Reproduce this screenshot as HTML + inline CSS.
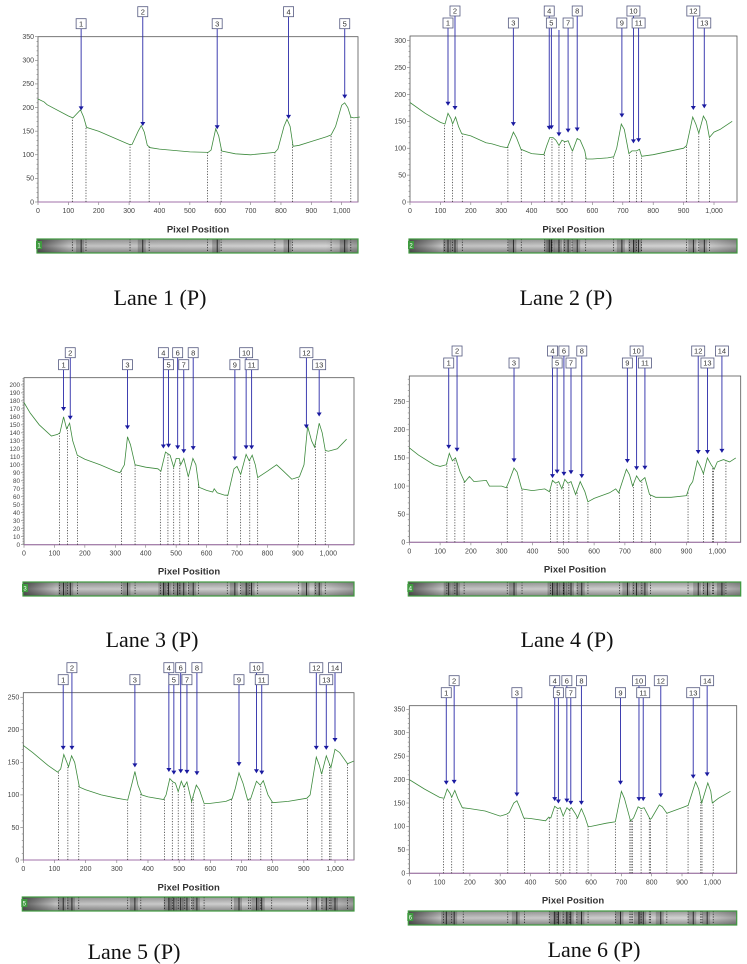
<!DOCTYPE html>
<html><head><meta charset="utf-8">
<style>
html,body{margin:0;padding:0;background:#fff;}
svg{display:block;font-family:"Liberation Sans",sans-serif;}
</style></head>
<body>
<svg id="fig" width="747" height="964" viewBox="0 0 747 964"></svg>
<script>
// ---------- data ----------
const lane1TraceX=[0,20,30,100,115,140,150,160,200,300,310,330,340,350,360,370,400,500,560,570,585,595,605,650,700,780,790,810,820,830,840,860,900,950,965,980,1000,1010,1020,1030,1040,1060];
const lane1TraceY=[218,212,206,182,178,195,180,158,150,122,122,150,162,148,120,115,112,106,105,110,155,140,108,102,100,105,112,160,175,160,118,120,128,138,142,160,205,210,200,180,178,180];
const lane1PeakX=[142,345,590,825,1010];
const lane1PeakY=[195,162,155,177,220];
const lane1Bounds=[113,158,303,366,558,603,780,838,965,1030];

const lane2TraceX=[0,50,100,115,125,135,140,150,160,170,200,250,270,300,320,330,340,350,365,400,440,450,460,470,480,490,500,510,520,530,535,550,560,575,580,600,650,670,680,695,705,720,730,745,755,762,800,900,910,930,940,950,965,975,985,1000,1020,1060];
const lane2TraceY=[185,165,148,145,165,155,145,158,140,127,123,110,108,103,101,115,130,120,98,90,88,105,120,120,115,105,115,112,114,100,95,118,115,95,80,80,82,84,100,145,135,90,95,95,98,85,88,100,105,158,145,128,160,150,120,130,135,150];
const lane2PeakX=[125,148,340,458,465,490,520,550,697,735,752,932,968];
const lane2PeakY=[180,172,142,135,136,123,130,132,158,110,112,172,175];
const lane2Bounds=[113,140,172,322,366,443,467,490,508,533,578,670,722,745,762,910,950,985];

const lane3TraceX=[0,20,50,90,110,118,130,140,150,160,175,200,250,300,315,330,340,350,365,400,440,450,465,480,492,500,510,515,525,540,555,565,575,600,620,625,635,660,670,690,700,712,730,740,750,760,768,800,830,850,880,905,920,932,945,955,970,980,990,1000,1030,1060];
const lane3TraceY=[178,165,150,136,138,140,160,145,152,130,112,107,100,92,90,100,135,125,100,97,95,92,116,112,97,108,108,100,108,85,108,100,72,68,66,70,65,62,62,95,98,88,113,105,112,100,84,92,100,93,82,85,100,148,130,122,152,140,118,117,120,132];
const lane3PeakX=[130,152,340,458,475,505,525,556,693,730,748,928,970];
const lane3PeakY=[168,157,145,121,122,120,115,119,106,120,120,146,161];
const lane3Bounds=[117,143,176,320,365,448,473,492,512,540,573,668,712,742,768,902,958,990];

const lane4TraceX=[0,30,80,100,120,130,140,150,165,180,195,210,250,260,300,315,325,340,350,365,400,440,455,465,475,485,495,505,515,525,540,555,570,580,600,650,670,680,705,715,725,738,750,765,780,800,850,900,910,920,935,945,955,968,980,990,1000,1020,1040,1060];
const lane4TraceY=[168,155,138,135,138,158,145,150,125,107,117,108,110,100,100,97,110,132,125,95,92,95,90,110,105,108,95,112,105,108,85,108,90,72,78,88,95,88,130,120,100,118,108,115,85,80,80,83,100,108,145,135,122,150,138,130,143,147,143,150];
const lane4PeakX=[128,155,340,465,480,502,525,560,708,738,765,938,968,1015];
const lane4PeakY=[167,162,143,115,123,119,122,115,142,129,130,158,158,160];
const lane4Bounds=[122,148,178,318,366,458,480,500,518,545,580,683,728,755,783,905,955,985,988,1028];

const lane5TraceX=[0,30,80,110,120,130,140,145,155,165,180,200,250,300,335,350,358,368,380,400,450,458,470,480,488,497,507,515,525,540,555,565,580,600,650,670,680,692,705,720,730,748,760,770,785,800,850,910,920,940,950,957,972,980,987,1000,1015,1040,1060];
const lane5TraceY=[176,165,145,135,140,162,150,143,160,150,112,108,100,95,92,120,136,115,100,97,93,100,125,120,118,105,121,112,120,90,115,108,87,87,90,94,110,134,118,92,95,121,115,122,100,88,90,95,100,158,145,132,160,150,142,170,165,148,152];
const lane5PeakX=[128,156,358,467,483,505,525,557,692,748,765,940,972,1000];
const lane5PeakY=[170,170,143,136,132,134,133,131,145,134,132,170,170,182];
const lane5Bounds=[113,143,178,335,377,453,478,497,518,540,545,580,668,722,728,762,797,912,958,982,987,1040];

const lane6TraceX=[0,50,100,115,125,135,140,150,160,175,200,250,300,320,330,345,355,365,378,400,450,460,467,480,490,498,508,520,528,535,550,555,568,580,590,600,650,680,700,710,730,740,755,765,775,795,800,825,835,850,900,920,945,955,965,985,995,1000,1020,1060];
const lane6TraceY=[200,180,162,160,180,170,162,177,160,140,138,133,122,126,130,150,155,140,118,117,112,120,118,143,138,140,122,140,135,140,125,118,138,120,100,100,107,110,175,160,112,118,142,138,140,115,118,146,142,128,140,145,195,180,150,193,175,150,160,175];
const lane6PeakX=[122,148,355,480,492,520,533,568,697,758,772,830,937,983];
const lane6PeakY=[190,192,165,155,150,152,147,147,190,155,155,163,203,208];
const lane6Bounds=[113,140,178,325,380,462,488,508,530,553,590,680,728,732,736,765,792,796,850,920,962,966,1003];

const xTickLabels=["0","100","200","300","400","500","600","700","800","900","1,000"];
const laneTitles=["Lane 1 (P)","Lane 2 (P)","Lane 3 (P)","Lane 4 (P)","Lane 5 (P)","Lane 6 (P)"];

// ---------- layout (geometry only) ----------
const panels=[
 {tx:lane1TraceX,ty:lane1TraceY,px:lane1PeakX,py:lane1PeakY,bd:lane1Bounds,left:38,right:358,k:0.3037,y0:202,top:36.7,ymax:350,step:50,stripY:239,xlabY:229,title:[160,305],noBox:[]},
 {tx:lane2TraceX,ty:lane2TraceY,px:lane2PeakX,py:lane2PeakY,bd:lane2Bounds,left:410,right:737,k:0.304,y0:202,top:36,ymax:308.7,step:50,stripY:239,xlabY:229,title:[566,305],noBox:[6]},
 {tx:lane3TraceX,ty:lane3TraceY,px:lane3PeakX,py:lane3PeakY,bd:lane3Bounds,left:24,right:354,k:0.3043,y0:544.7,top:377.7,ymax:209,step:10,stripY:582,xlabY:571,title:[152,647],noBox:[]},
 {tx:lane4TraceX,ty:lane4TraceY,px:lane4PeakX,py:lane4PeakY,bd:lane4Bounds,left:409.3,right:740.7,k:0.308,y0:542.3,top:376,ymax:295.7,step:50,stripY:582,xlabY:569,title:[567,647],noBox:[]},
 {tx:lane5TraceX,ty:lane5TraceY,px:lane5PeakX,py:lane5PeakY,bd:lane5Bounds,left:23.3,right:354,k:0.3117,y0:860,top:692.7,ymax:257,step:50,stripY:897,xlabY:887,title:[134,959],noBox:[]},
 {tx:lane6TraceX,ty:lane6TraceY,px:lane6PeakX,py:lane6PeakY,bd:lane6Bounds,left:409.3,right:736.7,k:0.303,y0:873.3,top:705.7,ymax:357.7,step:50,stripY:911,xlabY:900,title:[594,957],noBox:[]}
];

const NS="http://www.w3.org/2000/svg";
const fig=document.getElementById('fig');
function mk(tag,attrs,parent){const e=document.createElementNS(NS,tag);for(const a in attrs)e.setAttribute(a,attrs[a]);(parent||fig).appendChild(e);return e;}
function interp(xs,ys,x){for(let i=1;i<xs.length;i++){if(x<=xs[i]){const t=(x-xs[i-1])/(xs[i]-xs[i-1]);return ys[i-1]+t*(ys[i]-ys[i-1]);}}return ys[ys.length-1];}

panels.forEach((p,pi)=>{
 const g=mk('g',{});
 
 
 const X=v=>p.left+v*p.k;
 const Y=v=>p.y0-(v/p.ymax)*(p.y0-p.top);
 const fr=mk('rect',{x:p.left,y:p.top,width:p.right-p.left,height:p.y0-p.top,fill:'#fff',stroke:'#555','stroke-width':0.8},g);
 
 
 const minor=p.step/5;
 for(let v=0;v<=p.ymax+0.01;v+=minor){
   const major=Math.abs(v/p.step-Math.round(v/p.step))<1e-6;
   mk('line',{x1:p.left-(major?3:1.5),x2:p.left,y1:Y(v),y2:Y(v),stroke:'#777','stroke-width':0.6},g);
   if(major){const t=mk('text',{x:p.left-4,y:Y(v)+2.3,'font-size':p.step===10?6.3:7,fill:'#444','text-anchor':'end'},g);t.textContent=String(Math.round(v));
     }
 }
 xTickLabels.forEach((lab,i)=>{
   const v=i*100;
   mk('line',{x1:X(v),x2:X(v),y1:p.y0,y2:p.y0+3,stroke:'#777','stroke-width':0.6},g);
   const t=mk('text',{x:X(v),y:p.y0+11,'font-size':7,fill:'#444','text-anchor':'middle'},g);t.textContent=lab;
   
 });
 mk('line',{x1:p.left,x2:p.right,y1:p.y0,y2:p.y0,stroke:'#a070a8','stroke-width':1},g);
 p.bd.forEach(b=>{
   const l=mk('line',{x1:X(b),x2:X(b),y1:p.y0,y2:Y(interp(p.tx,p.ty,b)),stroke:'#222','stroke-width':0.7,'stroke-dasharray':'1.2,1.5'},g);
   
 });
 const pts=p.tx.map((x,i)=>X(x).toFixed(1)+','+Y(p.ty[i]).toFixed(1)).join(' ');
 const tr=mk('polyline',{points:pts,fill:'none',stroke:'#3d8a3d','stroke-width':0.8},g);
 
 p.px.forEach((x,i)=>{
   const n=i+1, lower=(n%2===1);
   const cx=X(x), by=p.top-(lower?13:25), tipY=Y(p.py[i]);
   const hasBox=p.noBox.indexOf(n)<0;
   const startY=hasBox?by+5:p.top-6;
   mk('line',{x1:cx,x2:cx,y1:startY,y2:tipY-3,stroke:'#2a2aa8','stroke-width':0.9},g);
   const tri=mk('polygon',{points:(cx-2.5)+','+(tipY-3.5)+' '+(cx+2.5)+','+(tipY-3.5)+' '+cx+','+(tipY+0.5),fill:'#1a1aa0'},g);
   
   if(hasBox){
     const w=n>9?13:10;
     const bx=mk('rect',{x:cx-w/2,y:by-5,width:w,height:10,fill:'#fff',stroke:'#555a80','stroke-width':0.8},g);
     
     const t=mk('text',{x:cx,y:by+2.7,'font-size':7.5,fill:'#333','text-anchor':'middle'},g);t.textContent=String(n);
     
   }
 });
 const xt=mk('text',{x:(p.left+p.right)/2,y:p.xlabY+3.5,'font-size':9.5,'font-weight':'bold',fill:'#333','text-anchor':'middle'},g);
 xt.textContent='Pixel Position';
 
 const gid='sg'+pi, hid='sh'+pi;
 const defs=mk('defs',{},g);
 const lg=mk('linearGradient',{id:gid,x1:0,y1:0,x2:0,y2:1},defs);
 mk('stop',{offset:'0','stop-color':'#a0a0a0'},lg);mk('stop',{offset:'0.5','stop-color':'#dedede'},lg);mk('stop',{offset:'1','stop-color':'#909090'},lg);
 const hg=mk('linearGradient',{id:hid,x1:0,y1:0,x2:1,y2:0},defs);
 mk('stop',{offset:'0','stop-color':'#222','stop-opacity':0.7},hg);mk('stop',{offset:'0.1','stop-color':'#222','stop-opacity':0.15},hg);mk('stop',{offset:'0.9','stop-color':'#222','stop-opacity':0.05},hg);mk('stop',{offset:'1','stop-color':'#222','stop-opacity':0.35},hg);
 const sx=p.left-1, sw=p.right-sx;
 const st=mk('rect',{x:sx,y:p.stripY,width:sw,height:14,fill:'url(#'+gid+')'},g);
 
 mk('rect',{x:sx,y:p.stripY,width:sw,height:14,fill:'url(#'+hid+')'},g);
 p.px.forEach(x=>{
   mk('rect',{x:X(x)-5,y:p.stripY,width:8,height:14,fill:'#222',opacity:0.25},g);
   mk('line',{x1:X(x),x2:X(x),y1:p.stripY,y2:p.stripY+14,stroke:'#111','stroke-width':0.8},g);
 });
 p.bd.forEach(b=>mk('line',{x1:X(b),x2:X(b),y1:p.stripY,y2:p.stripY+14,stroke:'#111','stroke-width':0.7,'stroke-dasharray':'1.2,1.5'},g));
 mk('rect',{x:sx,y:p.stripY,width:sw,height:14,fill:'none',stroke:'#3f9a3f','stroke-width':1.2},g);
 mk('rect',{x:sx-1,y:p.stripY+2,width:6,height:8,fill:'#3f9a3f'},g);
 const sn=mk('text',{x:sx+2,y:p.stripY+8.5,'font-size':6,fill:'#fff','text-anchor':'middle'},g);sn.textContent=String(pi+1);
 const lt=mk('text',{x:p.title[0],y:p.title[1],'font-size':22,fill:'#111','text-anchor':'middle','font-family':'"Liberation Serif",serif'},g);
 lt.textContent=laneTitles[pi];
 
});
</script>
</body></html>
